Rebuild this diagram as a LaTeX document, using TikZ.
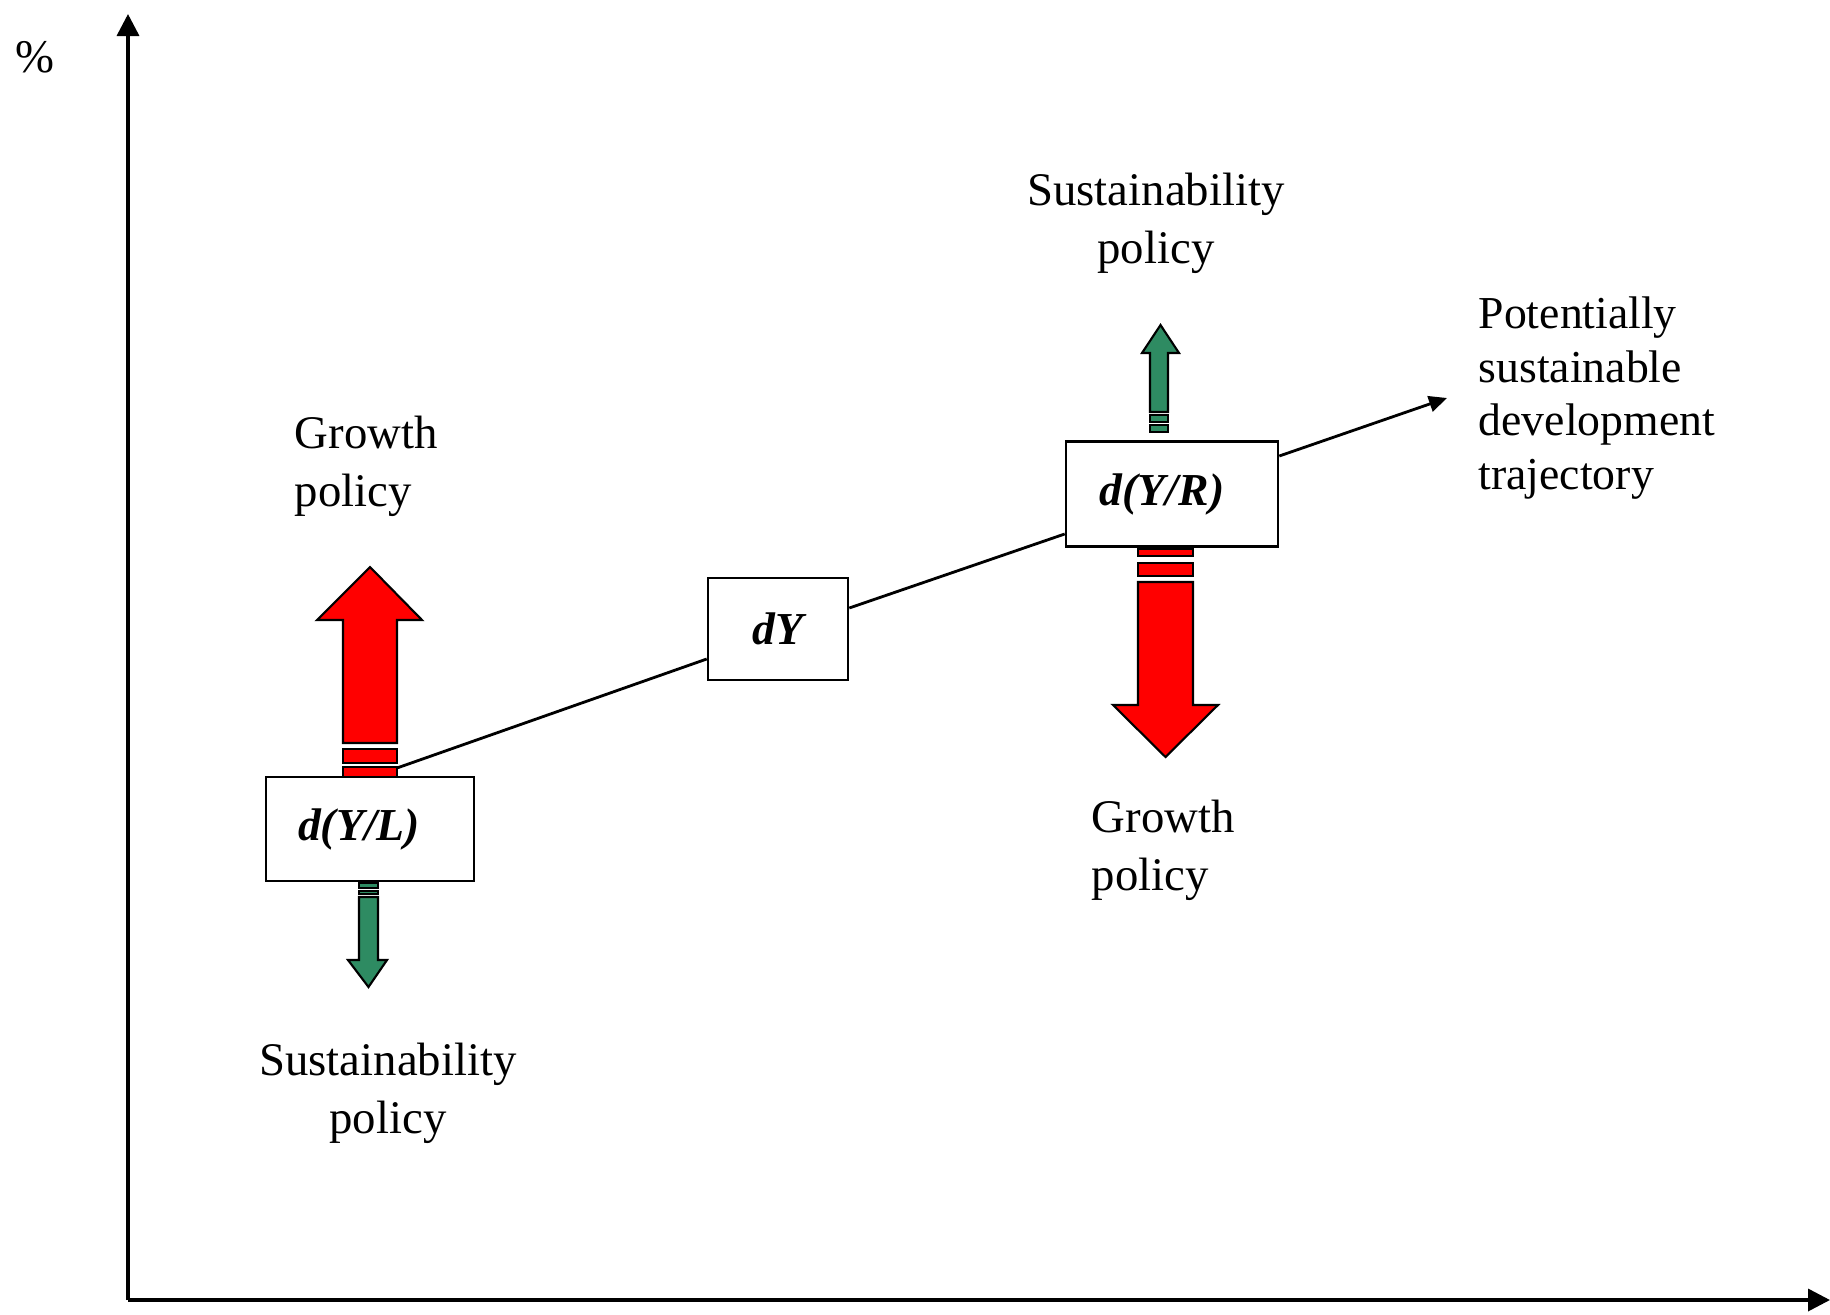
\documentclass[tikz,border=0pt]{standalone}
\usepackage{fontspec}
\setmainfont{Liberation Serif}
\usepackage{tikz}
\usetikzlibrary{arrows.meta}
\definecolor{policygreen}{RGB}{46,139,98}

\begin{document}
\begin{tikzpicture}[x=0.01cm, y=-0.01cm, >={Triangle[length=2.2mm, width=2.2mm]}]
    \tikzstyle{format} = [draw, line width=0.7pt, rectangle, fill=white,
	inner sep=0pt, font=\fontsize{13}{16}\selectfont\bfseries\itshape]
    \tikzstyle{txt} = [inner sep=0pt, font=\fontsize{13.3}{16.5}\selectfont]
    \tikzstyle{growth} = [draw, line width=0.6pt, fill=red]
    \tikzstyle{sustain} = [draw, line width=0.6pt, fill=policygreen]

	\useasboundingbox[fill=white] (0,0) rectangle (1830,1315);

	% axes
	\coordinate (origin) at (128,1300);
	\coordinate (y_top) at (128,14);
	\coordinate (x_end) at (1830,1300);
	\draw[->, line width=1pt] (origin) -- (y_top);
	\draw[->, line width=1pt] (origin) -- (x_end);
	\node[txt] (percent) at (35,57) {\%};

	% trajectory
	\coordinate (traj_start) at (397,768);
	\coordinate (traj_end) at (1447,398);
	\path
		node[format, minimum width=2.08cm, minimum height=1.04cm] (y_l) at (370,829) {d(Y/L)\kern0.22cm}
		node[format, minimum width=1.40cm, minimum height=1.02cm] (y) at (778,629) {dY}
		node[format, minimum width=2.12cm, minimum height=1.05cm] (y_r) at (1172,494) {d(Y/R)\kern0.2cm};

	\draw[line width=0.8pt] (traj_start) -- (y.west |- 0,659);
	\draw[line width=0.8pt] (y.east |- 0,608) -- (y_r.west |- 0,534);
	\draw[line width=0.8pt, -{Triangle[length=1.8mm, width=1.6mm]}]
		(y_r.east |- 0,456) -- (traj_end);

	% policy arrows at d(Y/L)
	\draw[growth] (343,743) -- (343,620) -- (317,620) -- (370,567) -- (422,620)
		-- (397,620) -- (397,743) -- cycle;
	\draw[growth] (343,749) rectangle (397,763);
	\draw[growth] (343,767) rectangle (397,777);

	\draw[sustain] (359,883) rectangle (378,888);
	\draw[sustain] (359,891) rectangle (378,894);
	\draw[sustain] (359,897) -- (359,960) -- (348,960) -- (368.5,987) -- (387,960)
		-- (378,960) -- (378,897) -- cycle;

	% policy arrows at d(Y/R)
	\draw[sustain] (1150,412) -- (1150,353) -- (1142,353) -- (1160.5,325) -- (1179,353)
		-- (1168,353) -- (1168,412) -- cycle;
	\draw[sustain] (1150,415) rectangle (1168,422);
	\draw[sustain] (1150,425) rectangle (1168,432);

	\draw[growth] (1138,549) rectangle (1193,556);
	\draw[growth] (1138,563) rectangle (1193,576);
	\draw[growth] (1138,582) -- (1138,705) -- (1113,705) -- (1165.5,757) -- (1218,705)
		-- (1193,705) -- (1193,582) -- cycle;

	% policy texts
	\node[txt, anchor=west, align=left] (grow_l) at (294,466) {Growth\\policy};
	\node[txt, align=center] (sust_l) at (388,1093) {Sustainability\\policy};
	\node[txt, align=center] (sust_r) at (1156,223) {Sustainability\\policy};
	\node[txt, anchor=west, align=left] (grow_r) at (1091,850) {Growth\\policy};
	\node[txt, anchor=west, align=left, font=\fontsize{13}{15.3}\selectfont] (traj) at (1478,398)
		{Potentially\\sustainable\\development\\trajectory};
\end{tikzpicture}
\end{document}
